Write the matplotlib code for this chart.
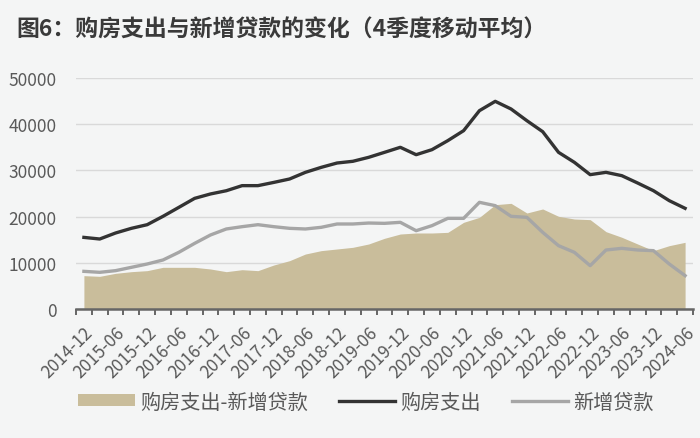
import numpy as np
import matplotlib
matplotlib.use('Agg')
import matplotlib.pyplot as plt

plt.rcParams['font.family'] = ['Noto Sans CJK SC', 'DejaVu Sans']

# quarterly, 2014-12 .. 2024-06 (4-quarter moving average)
quarters = ['2014-12', '2015-03', '2015-06', '2015-09', '2015-12', '2016-03', '2016-06', '2016-09',
            '2016-12', '2017-03', '2017-06', '2017-09', '2017-12', '2018-03', '2018-06', '2018-09',
            '2018-12', '2019-03', '2019-06', '2019-09', '2019-12', '2020-03', '2020-06', '2020-09',
            '2020-12', '2021-03', '2021-06', '2021-09', '2021-12', '2022-03', '2022-06', '2022-09',
            '2022-12', '2023-03', '2023-06', '2023-09', '2023-12', '2024-03', '2024-06']

housing_spend = [15500, 15150, 16450, 17460, 18250, 20060, 22000, 23950, 24900, 25600,
                 26700, 26700, 27400, 28140, 29580, 30660, 31600, 31970, 32830, 33910,
                 35000, 33400, 34490, 36440, 38600, 42930, 44950, 43290, 40760, 38380,
                 33910, 31750, 29080, 29580, 28860, 27270, 25610, 23450, 21790]

new_loans = [8150, 7940, 8300, 9020, 9740, 10610, 12270, 14210, 16020, 17320,
             17820, 18250, 17820, 17460, 17320, 17680, 18400, 18400, 18610, 18540,
             18760, 16950, 18040, 19620, 19620, 23090, 22370, 20060, 19840, 16590,
             13710, 12270, 9380, 12770, 13130, 12770, 12630, 9740, 7220]

spend_minus_loans = [7220, 7070, 7720, 8080, 8300, 9020, 9020, 9020, 8660, 8080,
                     8510, 8300, 9520, 10460, 11900, 12630, 12990, 13350, 14070, 15300,
                     16230, 16450, 16450, 16590, 18760, 19840, 22580, 22870, 20780, 21650,
                     20060, 19480, 19340, 16740, 15520, 14070, 12630, 13710, 14430]

yticks = [0, 10000, 20000, 30000, 40000, 50000]

bg = '#f4f5f5'
txt = '#595959'

fig = plt.figure(figsize=(7, 4.39), dpi=100, facecolor=bg)
ax = fig.add_axes([76/700, 1 - 310/439, 617/700, 231/439])
ax.set_facecolor(bg)

x = np.arange(len(quarters))
ax.fill_between(x, 0, spend_minus_loans, color='#c9bd9b', linewidth=0, label='购房支出-新增贷款')
ax.plot(x, housing_spend, color='#333333', linewidth=2.4, label='购房支出')
ax.plot(x, new_loans, color='#a6a6a6', linewidth=2.4, label='新增贷款')

ax.set_xlim(-0.5, len(quarters) - 0.5)
ax.set_ylim(0, 50000)
ax.set_yticks(yticks)
ax.set_yticklabels([str(v) for v in yticks])
ax.grid(axis='y', color='#d9d9d9', linewidth=1)
ax.set_axisbelow(True)

for s in ['top', 'right', 'left']:
    ax.spines[s].set_visible(False)
ax.spines['bottom'].set_color('#666666')
ax.spines['bottom'].set_linewidth(1.8)

# labels every half year, tick marks on the quarter boundaries
ax.set_xticks(x[::2])
ax.set_xticklabels(quarters[::2], rotation=45, ha='right', va='top', rotation_mode='anchor')
ax.set_xticks(np.arange(-0.5, len(quarters)), minor=True)
ax.tick_params(axis='x', which='major', length=0, pad=10, labelsize=12.5, labelcolor=txt)
ax.tick_params(axis='x', which='minor', length=4, width=1.4, color='#666666', direction='out')
ax.tick_params(axis='y', length=0, pad=14, labelsize=12.5, labelcolor=txt)

fig.text(16/700, 1 - 30/439, '图6：购房支出与新增贷款的变化（4季度移动平均）',
         fontsize=16.5, fontweight='bold', color='#3a3a3a', va='center', ha='left')

fig.legend(loc='center', bbox_to_anchor=(0.523, 1 - 403/439), ncol=3, frameon=False,
           fontsize=14.5, labelcolor=txt, handlelength=2.8, handleheight=0.55,
           handletextpad=0.25, columnspacing=1.55)

fig.savefig('out.png', dpi=100, facecolor=bg)
